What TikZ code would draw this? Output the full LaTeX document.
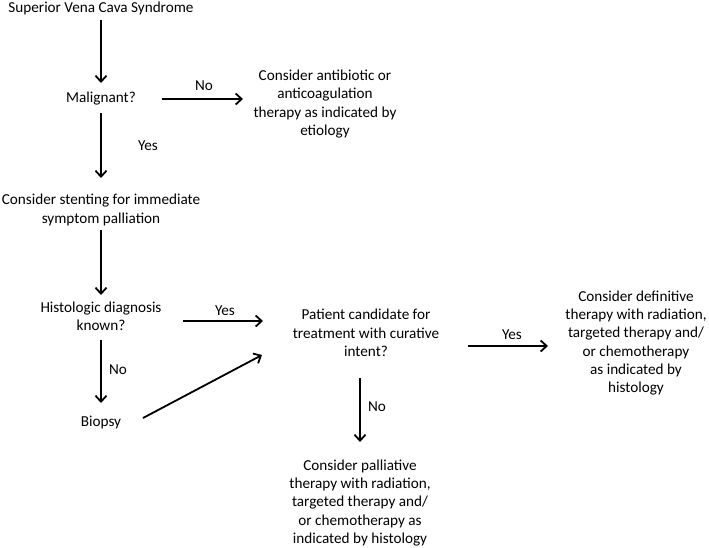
\documentclass[tikz,border=0pt]{standalone}
\usepackage{fontspec}
\setmainfont{Carlito}
\usetikzlibrary{arrows.meta}

\begin{document}
\begin{tikzpicture}[x=1pt,y=-1pt,
  txt/.style={align=center,inner sep=0pt,font=\fontsize{15.2}{18.3}\selectfont},
  lbl/.style={inner sep=0pt,font=\fontsize{15.2}{18.3}\selectfont},
  arr/.style={line width=1.8pt,-{Straight Barb[length=6pt,width=11pt]}}]
\useasboundingbox (0,0) rectangle (709,547);
% left column
\node[txt] (svc) at (101,8) {Superior Vena Cava Syndrome};
\node[txt] (malig) at (101,99) {Malignant?};
\node[txt] (stent) at (101,210) {Consider stenting for immediate\\symptom palliation};
\node[txt] (histo) at (101,316) {Histologic diagnosis\\known?};
\node[txt] (biopsy) at (101,422) {Biopsy};
% outcomes
\node[txt] (abx) at (325,104) {Consider antibiotic or\\anticoagulation\\therapy as indicated by\\etiology};
\node[txt] (cand) at (366,333) {Patient candidate for\\treatment with curative\\intent?};
\node[txt] (defin) at (636,343) {Consider definitive\\therapy with radiation,\\targeted therapy and/\\or chemotherapy\\as indicated by\\histology};
\node[txt] (pall) at (360,503) {Consider palliative\\therapy with radiation,\\targeted therapy and/\\or chemotherapy as\\indicated by histology};
% labels
\foreach \n/\x/\y/\t in {noA/204/86/No, yesA/148/146/Yes, yesB/225/311/Yes,
  noB/118/370/No, yesC/512/335/Yes, noC/377/407/No}
  \node[lbl] (\n) at (\x,\y) {\t};
% arrows down the left
\foreach \a/\b/\s/\e in {svc/malig/12/16, malig/stent/14/32,
  stent/histo/20/21, histo/biopsy/24/19}
  \draw[arr, shorten <=\s pt, shorten >=\e pt] (\a.center) -- (\b.center);
\draw[arr, shorten <=61pt, shorten >=82pt] (malig.center) -- (malig.center -| abx.center);
\draw[arr, shorten <=82pt, shorten >=103pt] ([yshift=-5pt]histo.center) -- ([yshift=-5pt]histo.center -| cand.center);
\draw[arr] ([shift={(42pt,4pt)}]biopsy.center) -- ([shift={(-104pt,-22pt)}]cand.center);
\draw[arr, shorten <=102pt, shorten >=88pt] ([yshift=-3pt]cand.center |- defin.center) -- ([yshift=-3pt]defin.center);
\draw[arr, shorten <=45pt, shorten >=61pt] (pall.center |- cand.center) -- (pall.center);
\end{tikzpicture}
\end{document}
